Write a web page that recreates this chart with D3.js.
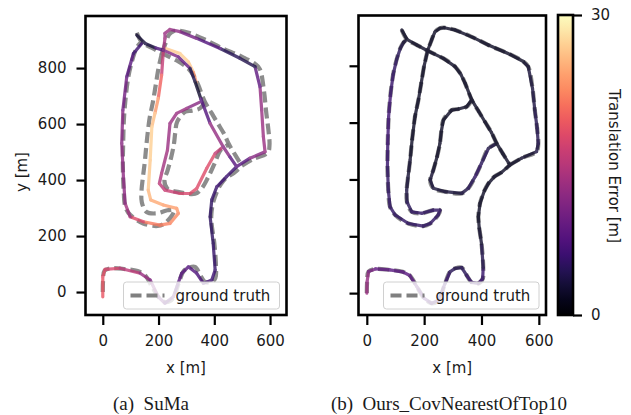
<!DOCTYPE html>
<html><head><meta charset="utf-8">
<script src="https://cdn.jsdelivr.net/npm/d3@7"></script>
<style>
html,body{margin:0;padding:0;background:#fff;}
svg text{font-family:"DejaVu Sans",sans-serif;fill:#1a1a1a;}
</style></head>
<body><svg id="c" width="631" height="415"></svg>
<script>
// ---------- data (metres) ----------
const xTicks = [0, 200, 400, 600];
const yTicks = [0, 200, 400, 600, 800];
const errMax = 30;
const cbTicks = [0, 30];

// ground truth, as separate pieces [x, y]
const gtSouth = [[0,0],[1,40],[6,76],[30,85],[80,82],[125,75],[150,62],[175,22],[200,-18],[226,-36],[250,-25],[273,34],[290,75],[308,87],[331,90],[350,60],[365,38],[389,34],[404,50],[406,90],[400,175],[392,230],[389,269],[395,316],[410,360],[424,386],[445,410],[470,425],[499,451]];
const gtEast = [[499,451],[540,475],[592,498],[598,526],[594,580],[586,644],[578,720],[563,797],[546,815],[500,840],[424,873],[370,900],[308,926],[270,934],[255,932],[238,920],[226,891],[212,853]];
const gtWest = [[212,853],[200,800],[190,740],[180,680],[168,621],[158,540],[151,468],[144,410],[139,363],[140,321],[157,286],[192,281],[232,292],[255,292],[249,275],[221,245],[197,236],[145,245],[99,275],[81,304],[75,363],[72,450],[73,527],[76,620],[83,703],[92,770],[104,822],[117,862],[128,882],[140,893]];
const gtDiag = [[122,926],[140,893],[175,873],[212,853],[267,826],[308,797],[328,770],[343,738],[366,680],[390,640],[412,603],[435,565],[453,527],[475,490],[499,451]];
const gtLoop = [[366,680],[348,656],[320,648],[296,644],[267,609],[260,570],[255,527],[245,480],[232,433],[221,398],[232,369],[273,357],[331,351],[354,369],[378,410],[400,457],[424,509],[453,527]];

// (a) SuMa estimate [x, y, translation error]
const sumaArc = [[225,870,26],[277,852,27],[307,822,27],[325,785,26],[335,750,20]];
const sumaSouth = [[0,-17,19],[0,55,19],[8,81,18],[62,85,17],[134,67,14],[170,43,12],[199,-17,10],[223,-40,9],[253,-17,8],[283,67,8],[307,90,8],[337,67,7],[361,31,7],[391,43,6],[403,79,6],[396,174,5],[385,269,5],[391,329,5],[409,376,6],[444,412,6],[480,448,6]];
const sumaEast = [[480,448,6],[528,478,10],[582,501,13],[576,555,13],[570,650,13],[564,733,12],[546,805,5],[492,835,3],[421,870,6],[337,906,9],[277,930,11],[241,938,13],[223,924,13]];
const sumaWest = [[223,924,13],[223,906,13],[217,858,14],[211,775,18],[199,692,22],[187,638,25],[176,590,27],[170,471,27],[163,364,26],[172,329,25],[217,311,24],[265,299,24],[271,281,23],[241,245,22],[205,239,22],[146,251,21],[98,269,15],[80,317,12],[74,412,12],[68,531,12],[72,650,11],[86,769,9],[110,852,7],[140,888,5]];
const sumaDiag = [[122,918,3],[152,888,3],[190,872,4],[217,864,10],[271,840,12],[313,799,6],[331,751,2],[352,690,3],[385,602,12],[432,519,13],[456,483,10],[480,448,6]];
const sumaLoop = [[352,680,10],[301,656,13],[265,638,13],[241,602,13],[232,507,13],[211,424,14],[203,388,15],[223,364,16],[277,352,17],[313,352,18],[337,370,18],[373,442,18],[403,495,18],[432,519,14]];

// (b) Ours_CovNearestOfTop10: error along the ground-truth pieces
const oursSouthErr = [13,13,12,9,8,8,8,8,8,7,7,6,5,4,4,5,6,6,6,5,3,2,2,2,2,2,2,2,2];
const oursEastErr = [2,2,3,4,4,4,3,3,2,2,2,2,2,2,2,2,2,2];
const oursWestErr = [2,2,2,2,2,2,2,3,3,4,5,5,5,5,5,5,5,5,5,5,5,5,6,6,6,5,5,4,3,2];
const oursDiagErr = [2,2,2,2,2,2,2,2,2,2,2,2,2,2,2];
const oursLoopErr = [2,2,2,2,2,2,2,2,2,3,3,3,3,4,5,5,4,3];

const captions = ["(a)  SuMa", "(b)  Ours_CovNearestOfTop10"];

// ---------- drawing ----------
const svg = d3.select("#c");
const color = v => d3.interpolateMagma(Math.max(0, Math.min(1, v / errMax)));

const panels = [
  {x: d3.scaleLinear().domain([-62, 659]).range([85.5, 286.5]),
   y: d3.scaleLinear().domain([-82, 986]).range([315, 16]),
   est: [sumaArc, sumaSouth, sumaEast, sumaWest, sumaLoop, sumaDiag],
   yLabels: true, legend: [123.5, 279.5], cap: captions[0], capX: 151},
  {x: d3.scaleLinear().domain([-29, 625]).range([358.5, 546]),
   y: d3.scaleLinear().domain([-77, 977]).range([315, 15.5]),
   est: [[gtSouth, oursSouthErr], [gtEast, oursEastErr], [gtWest, oursWestErr], [gtLoop, oursLoopErr], [gtDiag, oursDiagErr]]
        .map(([p, e]) => p.map((q, i) => [q[0], q[1], e[i]])),
   yLabels: false, legend: [383.5, 539], cap: captions[1], capX: 449}
];
const gtPieces = [gtSouth, gtEast, gtWest, gtDiag, gtLoop];

panels.forEach((P, pi) => {
  const [x0, x1] = P.x.range(), [y0, y1] = P.y.range();
  const g = svg.append("g");
  const clipId = "clip" + pi;
  svg.append("clipPath").attr("id", clipId).append("rect")
    .attr("x", x0).attr("y", y1).attr("width", x1 - x0).attr("height", y0 - y1);
  const plot = g.append("g").attr("clip-path", `url(#${clipId})`);

  const line = d3.line().x(d => P.x(d[0])).y(d => P.y(d[1])).curve(d3.curveCatmullRom.alpha(0.5));

  // ground truth dashed (underneath)
  gtPieces.forEach(p => {
    plot.append("path").attr("d", line(p)).attr("fill", "none")
      .attr("stroke", "#808080").attr("stroke-opacity", 0.9)
      .attr("stroke-width", 4.2).attr("stroke-dasharray", "11,5");
  });
  // estimate, coloured by error
  const est = plot.append("g").attr("opacity", 0.8);
  P.est.forEach(seg => {
    for (let i = 0; i < seg.length - 1; i++) {
      const a = seg[i], b = seg[i + 1];
      est.append("line")
        .attr("x1", P.x(a[0])).attr("y1", P.y(a[1]))
        .attr("x2", P.x(b[0])).attr("y2", P.y(b[1]))
        .attr("stroke", color((a[2] + b[2]) / 2))
        .attr("stroke-width", 3.2).attr("stroke-linecap", "round");
    }
  });

  // legend
  const [lx0, lx1] = P.legend;
  g.append("rect").attr("x", lx0).attr("y", 282).attr("width", lx1 - lx0).attr("height", 27)
    .attr("rx", 3).attr("fill", "#fff").attr("fill-opacity", 0.8)
    .attr("stroke", "#d0d0d0").attr("stroke-width", 1);
  g.append("line").attr("x1", lx0 + 7).attr("x2", lx0 + 41).attr("y1", 295.5).attr("y2", 295.5)
    .attr("stroke", "#808080").attr("stroke-width", 4.2).attr("stroke-dasharray", "11,5");
  g.append("text").attr("x", lx0 + 52).attr("y", 300.5).attr("font-size", 15).text("ground truth");

  // axes
  const ax = g.append("g").attr("transform", `translate(0,${y0})`)
    .call(d3.axisBottom(P.x).tickValues(xTicks).tickSize(10).tickPadding(10).tickSizeOuter(0));
  const ay = g.append("g").attr("transform", `translate(${x0},0)`)
    .call(d3.axisLeft(P.y).tickValues(yTicks).tickSize(9).tickPadding(10).tickSizeOuter(0)
      .tickFormat(P.yLabels ? d3.format("d") : () => ""));
  [ax, ay].forEach(a => {
    a.select(".domain").remove();
    a.selectAll(".tick line").attr("stroke", "#000").attr("stroke-width", 2.2);
    a.selectAll(".tick text").attr("font-size", 15).attr("fill", "#1a1a1a")
      .attr("font-family", '"DejaVu Sans",sans-serif');
  });
  g.append("rect").attr("x", x0).attr("y", y1).attr("width", x1 - x0).attr("height", y0 - y1)
    .attr("fill", "none").attr("stroke", "#000").attr("stroke-width", 2.6);

  g.append("text").attr("x", (x0 + x1) / 2).attr("y", 373).attr("text-anchor", "middle")
    .attr("font-size", 15).text("x [m]");
  if (P.yLabels) {
    g.append("text").attr("transform", `translate(27,172) rotate(-90)`)
      .attr("text-anchor", "middle").attr("font-size", 15).text("y [m]");
  }
  g.append("text").attr("x", P.capX).attr("y", 410).attr("text-anchor", "middle")
    .attr("font-size", 19).style("font-family", '"Liberation Serif","Times New Roman",serif')
    .style("white-space", "pre").attr("xml:space", "preserve").text(P.cap);
});

// colour bar
const cb = {x: 558, w: 15, top: 15, bottom: 315};
const cbScale = d3.scaleLinear().domain([0, errMax]).range([cb.bottom, cb.top]);
const grad = svg.append("defs").append("linearGradient").attr("id", "mag")
  .attr("x1", 0).attr("y1", 1).attr("x2", 0).attr("y2", 0);
d3.range(0, 1.0001, 0.05).forEach(t => grad.append("stop").attr("offset", t).attr("stop-color", d3.interpolateMagma(t)));
svg.append("rect").attr("x", cb.x).attr("y", cb.top).attr("width", cb.w).attr("height", cb.bottom - cb.top)
  .attr("fill", "url(#mag)");
const cax = svg.append("g").attr("transform", `translate(${cb.x + cb.w},0)`)
  .call(d3.axisRight(cbScale).tickValues(cbTicks).tickSize(9).tickPadding(9).tickSizeOuter(0));
cax.select(".domain").remove();
cax.selectAll(".tick line").attr("stroke", "#000").attr("stroke-width", 2.2);
cax.selectAll(".tick text").attr("font-size", 15).attr("fill", "#1a1a1a").attr("font-family", '"DejaVu Sans",sans-serif');
svg.append("rect").attr("x", cb.x).attr("y", cb.top).attr("width", cb.w).attr("height", cb.bottom - cb.top)
  .attr("fill", "none").attr("stroke", "#000").attr("stroke-width", 2.6);
svg.append("text").attr("transform", "translate(609,166) rotate(90)").attr("text-anchor", "middle")
  .attr("font-size", 15).attr("fill", "#333").text("Translation Error [m]");
</script></body></html>
